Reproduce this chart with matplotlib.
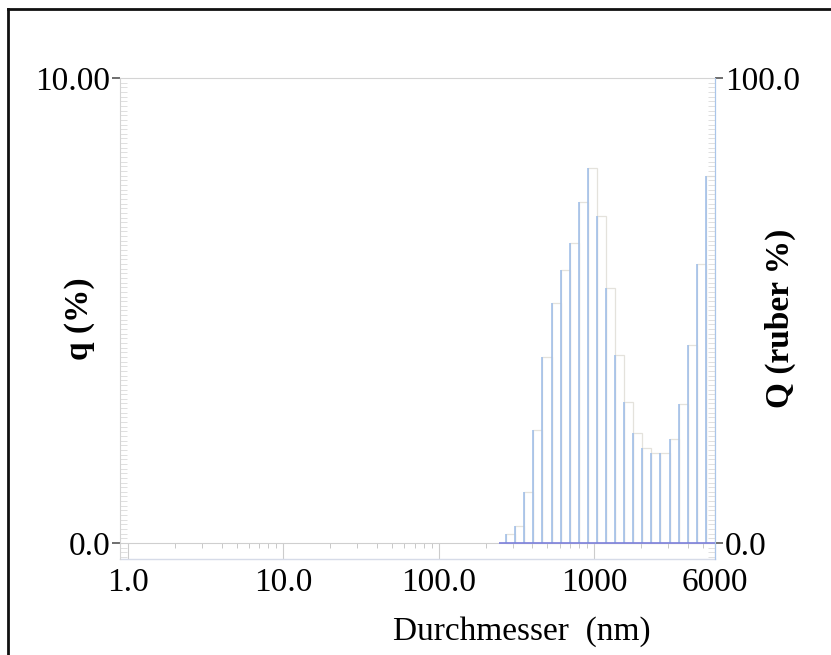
import numpy as np
import matplotlib.pyplot as plt
from matplotlib.ticker import FixedLocator, NullFormatter, MultipleLocator
from matplotlib.lines import Line2D

# particle size histogram (Durchmesser in nm, q in %)
bin_edges_nm = [271, 310, 355, 406, 465, 532, 608, 696, 796, 911, 1043, 1193,
                1365, 1561, 1786, 2044, 2338, 2675, 3061, 3502, 4006, 4584, 5244, 6000]
q_percent = [0.2, 0.37, 1.10, 2.43, 4.0, 5.16, 5.87, 6.45, 7.34, 8.06, 7.03, 5.48,
             4.04, 3.04, 2.37, 2.04, 1.94, 1.94, 2.24, 2.99, 4.26, 6.0, 7.9]

x_ticks = [1, 10, 100, 1000, 6000]
x_ticklabels = ['1.0', '10.0', '100.0', '1000', '6000']

plt.rcParams['font.family'] = ['Liberation Serif', 'DejaVu Serif']

fig = plt.figure(figsize=(8.31, 6.55), dpi=100)
ax = fig.add_axes([0.1444, 0.1466, 0.7160, 0.7343])

edges = np.array(bin_edges_nm, dtype=float)
q = np.array(q_percent)

# light bar outlines + blue lines
ax.bar(edges[:-1], q, width=np.diff(edges), align='edge', fill=False,
       edgecolor='#e4e2dc', linewidth=0.9, zorder=2)
ax.vlines(edges[:-1], 0, q, color='#9bbce8', linewidth=1.1, zorder=3)
ax.hlines(0, edges[0] * 0.9, edges[-1], color='#7d80dc', linewidth=1.2, zorder=4)

ax.set_xscale('log')
ax.set_xlim(0.888, 6000)
ax.set_ylim(-0.344, 10)

# spines
ax.spines['bottom'].set_position(('data', 0))
ax.spines['bottom'].set_color('#cfcfcf')
ax.spines['left'].set_color('#d4d4d4')
ax.spines['top'].set_color('#d4d4d4')
ax.spines['top'].set_linestyle((0, (3, 1)))
ax.spines['right'].set_color('#a9c5ea')
ax.plot([0, 1], [0, 0], transform=ax.transAxes, color='#d6dbe8', lw=1.0, clip_on=False)

# x ticks
ax.xaxis.set_major_locator(FixedLocator(x_ticks))
ax.set_xticklabels(x_ticklabels)
minor = [m * 10 ** e for e in range(0, 4) for m in range(2, 10) if m * 10 ** e < 6000]
ax.xaxis.set_minor_locator(FixedLocator(minor))
ax.xaxis.set_minor_formatter(NullFormatter())
ax.tick_params(axis='x', which='major', direction='out', length=11.5, width=0.8,
               color='#cccccc', labelsize=24, pad=6)
ax.tick_params(axis='x', which='minor', direction='out', length=3.5, width=0.7,
               color='#c8c8c8')

# left y ticks
ax.set_yticks([0, 10])
ax.set_yticklabels(['0.0', '10.00'])
ax.yaxis.set_minor_locator(MultipleLocator(0.1))
ax.tick_params(axis='y', which='major', direction='out', length=6, width=1.2,
               color='#555555', labelsize=24, pad=1)
ax.tick_params(axis='y', which='minor', direction='in', length=5, width=0.6,
               color='#dadada')
ax.set_ylabel('q (%)', fontsize=24, fontweight='bold')
ax.yaxis.set_label_coords(-0.042, 0.5)

# right axis Q
ax2 = ax.twinx()
ax2.set_ylim(-3.44, 100)
ax2.set_yticks([0, 100])
ax2.set_yticklabels(['0.0', '100.0'])
ax2.yaxis.set_minor_locator(MultipleLocator(1))
ax2.tick_params(axis='y', which='major', direction='out', length=6, width=1.2,
                color='#555555', labelsize=24, pad=1)
ax2.tick_params(axis='y', which='minor', direction='in', length=5, width=0.6,
                color='#dadada')
for s in ['top', 'bottom', 'left']:
    ax2.spines[s].set_visible(False)
ax2.spines['right'].set_color('#a9c5ea')
ax2.set_ylabel('Q (ruber %)', fontsize=24, fontweight='bold')
ax2.yaxis.set_label_coords(1.084, 0.5)

fig.text(0.628, 0.035, 'Durchmesser  (nm)', fontsize=24, ha='center', va='center')

# outer border (left + top)
fig.add_artist(Line2D([0.0096, 0.0096], [0, 0.986], color='#111111', lw=2.0))
fig.add_artist(Line2D([0.0096, 1.0], [0.986, 0.986], color='#111111', lw=2.0))

fig.savefig('out.png', dpi=100, facecolor='white')
